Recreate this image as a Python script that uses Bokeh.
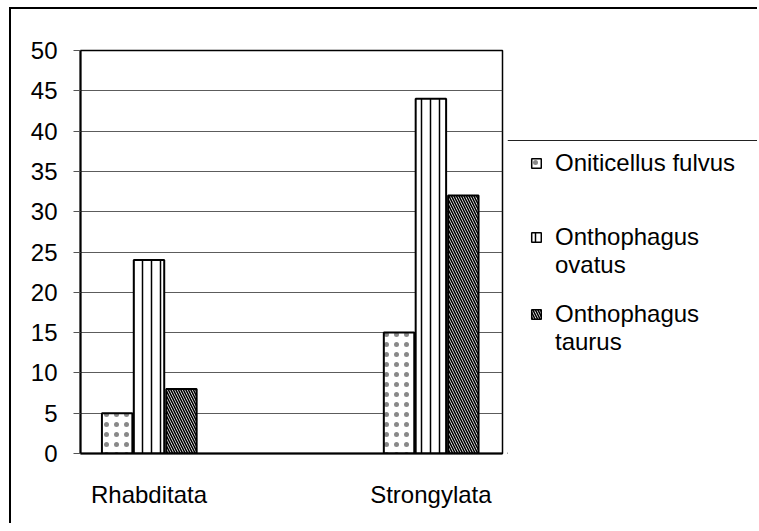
from bokeh.plotting import figure
from bokeh.models import ColumnDataSource, FixedTicker, Legend, LegendItem, Range1d, Span
from bokeh.layouts import row
from bokeh.transform import dodge
from bokeh.embed import file_html
from bokeh.resources import INLINE

# ---- data ----
categories = ["Rhabditata", "Strongylata"]
series_names = ["Oniticellus fulvus", "Onthophagus ovatus", "Onthophagus taurus"]
oniticellus_fulvus = [5, 15]
onthophagus_ovatus = [24, 44]
onthophagus_taurus = [8, 32]
y_ticks = [0, 5, 10, 15, 20, 25, 30, 35, 40, 45, 50]

src = ColumnDataSource(dict(
    x=list(range(len(categories))),
    fulvus=oniticellus_fulvus,
    ovatus=onthophagus_ovatus,
    taurus=onthophagus_taurus,
))

FONT = "Liberation Sans"
H = 514
FRAME_H = 403

styles = [
    dict(hatch_pattern="dot", hatch_scale=10, hatch_weight=0.8, hatch_color="#888"),
    dict(hatch_pattern="vertical_line", hatch_scale=9, hatch_weight=1.5, hatch_color="black"),
    dict(hatch_pattern="left_diagonal_line", hatch_scale=5, hatch_weight=1.6, hatch_color="black"),
]

p = figure(width=496, height=H, output_backend="svg", toolbar_location=None,
           x_range=Range1d(-0.243, 1.254), y_range=Range1d(0, 50),
           min_border_left=69, min_border_right=5, min_border_top=41, min_border_bottom=70)
p.background_fill_color = "white"
p.border_fill_color = "white"
p.outline_line_color = "black"
p.outline_line_width = 1.5

bw = 0.108
offsets = [-0.113, 0.0, 0.115]
cols = ["fulvus", "ovatus", "taurus"]
for off, col, st in zip(offsets, cols, styles):
    p.vbar(x=dodge("x", off), top=col, width=bw, source=src,
           fill_color="white", line_color="black", line_width=2, **st)

# axes
p.xaxis.ticker = FixedTicker(ticks=list(range(len(categories))))
p.xaxis.major_label_overrides = {i: c for i, c in enumerate(categories)}
p.xaxis.major_tick_line_color = None
p.xaxis.minor_tick_line_color = None
p.xaxis.axis_line_width = 2
p.xaxis.axis_line_color = "black"
p.xaxis.major_label_text_font = FONT
p.xaxis.major_label_text_font_size = "24px"
p.xaxis.major_label_text_color = "black"
p.xaxis.major_label_standoff = 21

p.yaxis.ticker = FixedTicker(ticks=y_ticks)
p.yaxis.axis_line_width = 2
p.yaxis.axis_line_color = "black"
p.yaxis.major_tick_out = 7
p.yaxis.major_tick_in = 0
p.yaxis.major_tick_line_color = "#555"
p.yaxis.minor_tick_line_color = None
p.yaxis.major_label_text_font = FONT
p.yaxis.major_label_text_font_size = "24px"
p.yaxis.major_label_text_color = "black"
p.yaxis.major_label_standoff = 16

p.xgrid.grid_line_color = None
p.ygrid.grid_line_color = "#333"
p.ygrid.grid_line_width = 1
p.ygrid.grid_line_alpha = 0.8

# ---- legend panel (its frame is aligned with the chart frame by the row) ----
lg = figure(width=250, height=H, output_backend="svg", toolbar_location=None,
            x_range=Range1d(0, 250), y_range=Range1d(0, FRAME_H),
            min_border=0)
lg.axis.visible = False
lg.grid.visible = False
lg.outline_line_color = None
lg.background_fill_color = "white"
lg.border_fill_color = "white"

offscreen = ColumnDataSource(dict(x=[-1e6], top=[0]))
swatches = [lg.vbar(x="x", top="top", width=1, source=offscreen, fill_color="white",
                    line_color="black", line_width=1.5, **st) for st in styles]
blank = lg.vbar(x="x", top="top", width=1, source=offscreen, fill_alpha=0, line_alpha=0)

lg.add_layout(Span(location=313, dimension="width", line_color="#222", line_width=1))

def make_legend(items, loc):
    L = Legend(items=items, location=loc)
    L.border_line_color = None
    L.background_fill_alpha = 0
    L.label_text_font = FONT
    L.label_text_font_size = "24px"
    L.label_text_color = "black"
    L.glyph_width = 12
    L.glyph_height = 12
    L.label_standoff = 13
    L.spacing = 0
    L.padding = 0
    L.margin = 0
    lg.add_layout(L, "center")

name_lines = [n.split(" ") for n in series_names]
make_legend([LegendItem(label=series_names[0], renderers=[swatches[0]])], (23, 276))
make_legend([LegendItem(label=name_lines[1][0], renderers=[swatches[1]])], (23, 202))
make_legend([LegendItem(label=name_lines[1][1], renderers=[blank])], (23, 174))
make_legend([LegendItem(label=name_lines[2][0], renderers=[swatches[2]])], (23, 125))
make_legend([LegendItem(label=name_lines[2][1], renderers=[blank])], (23, 97))

layout = row(p, lg)
layout.styles = {"border-top": "2px solid black", "border-left": "2px solid black",
                 "margin-left": "9px", "margin-top": "7px"}

open("out.html", "w").write(file_html(layout, INLINE))
